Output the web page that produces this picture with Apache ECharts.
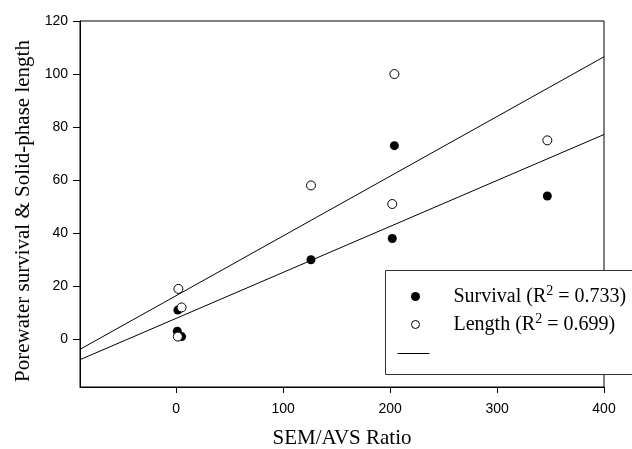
<!DOCTYPE html>
<html>
<head>
<meta charset="utf-8">
<script src="https://cdn.jsdelivr.net/npm/echarts@6/dist/echarts.min.js"></script>
<style>
  html, body { margin: 0; padding: 0; background: #fff; }
  #chart { width: 632px; height: 449px; }
</style>
</head>
<body>
<div id="chart"></div>
<script>
// values
const survivalPoints = [[1, 3], [5, 1], [1.5, 11], [126, 30], [202, 38], [204, 73], [347, 54]];
const lengthPoints = [[1.5, 1], [2, 19], [5, 12], [126, 58], [202, 51], [204, 100], [347, 75]];
const survivalFit = [[-90, -7.7], [400, 77.2]];
const lengthFit = [[-90, -3.8], [400, 106.5]];
const xTicks = [0, 100, 200, 300, 400];
const yTicks = [0, 20, 40, 60, 80, 100, 120];
const legendRows = [['Survival', '0.733'], ['Length', '0.699']];

const serif = 'Liberation Serif';
const sans = 'Liberation Sans';

const chart = echarts.init(document.getElementById('chart'));

const legendText = (row) => `{t|${row[0]} (R}{s|2}{t| = ${row[1]})}`;
const rich = {
  t: { fontFamily: serif, fontSize: 20, lineHeight: 24, fill: '#000', verticalAlign: 'middle' },
  s: { fontFamily: serif, fontSize: 14, lineHeight: 24, fill: '#000', verticalAlign: 'top' }
};

const axisCommon = {
  axisLine: { show: true, onZero: false, lineStyle: { color: '#000', width: 1 } },
  splitLine: { show: false },
  nameTextStyle: { fontFamily: serif, fontSize: 21, color: '#000' }
};

chart.setOption({
  animation: false,
  backgroundColor: '#fff',
  grid: {
    left: 80, top: 21, right: 28, bottom: 62,
    outerBoundsMode: 'none',
    show: true, borderColor: '#000', borderWidth: 1
  },
  xAxis: Object.assign({}, axisCommon, {
    type: 'value',
    min: -90,
    max: 400,
    name: 'SEM/AVS Ratio',
    nameLocation: 'middle',
    nameGap: 41,
    axisTick: { show: true, length: 6, customValues: xTicks, lineStyle: { color: '#000' } },
    axisLabel: { customValues: xTicks, margin: 15, fontFamily: sans, fontSize: 14, color: '#000' }
  }),
  yAxis: Object.assign({}, axisCommon, {
    type: 'value',
    min: -18,
    max: 120,
    name: 'Porewater survival & Solid-phase length',
    nameLocation: 'middle',
    nameGap: 44,
    nameTextStyle: { fontFamily: serif, fontSize: 21, color: '#000', padding: [0, 14, 0, 0] },
    axisTick: { show: true, length: 7, customValues: yTicks, lineStyle: { color: '#000' } },
    axisLabel: { customValues: yTicks, margin: 12, fontFamily: sans, fontSize: 14, color: '#000' }
  }),
  series: [
    {
      type: 'line', data: lengthFit, symbol: 'none', silent: true,
      lineStyle: { color: '#000', width: 1 }
    },
    {
      type: 'line', data: survivalFit, symbol: 'none', silent: true,
      lineStyle: { color: '#000', width: 1 }
    },
    {
      name: 'Survival', type: 'scatter', data: survivalPoints, symbolSize: 9,
      itemStyle: { color: '#000', opacity: 1 }
    },
    {
      name: 'Length', type: 'scatter', data: lengthPoints, symbolSize: 9,
      itemStyle: { color: '#fff', borderColor: '#000', borderWidth: 1, opacity: 1 }
    }
  ],
  graphic: [{
    type: 'group',
    left: 385,
    top: 270,
    z: 100,
    children: [
      { type: 'rect', shape: { x: 0, y: 0, width: 260, height: 104 },
        style: { fill: '#fff', stroke: '#333', lineWidth: 1 } },
      { type: 'circle', shape: { cx: 30, cy: 26, r: 4.5 }, style: { fill: '#000' } },
      { type: 'circle', shape: { cx: 30, cy: 54, r: 4 }, style: { fill: '#fff', stroke: '#000', lineWidth: 1 } },
      { type: 'line', shape: { x1: 12, y1: 83, x2: 44, y2: 83 }, style: { stroke: '#000', lineWidth: 1 } },
      { type: 'text', x: 68, y: 26, style: { text: legendText(legendRows[0]), rich: rich, verticalAlign: 'middle' } },
      { type: 'text', x: 68, y: 54, style: { text: legendText(legendRows[1]), rich: rich, verticalAlign: 'middle' } }
    ]
  }]
});
</script>
</body>
</html>
